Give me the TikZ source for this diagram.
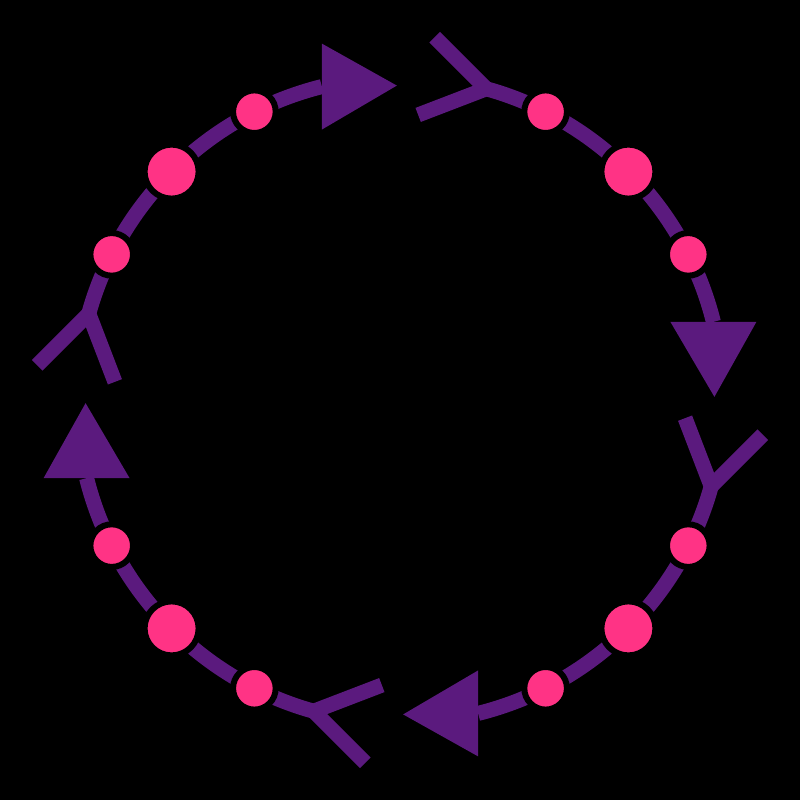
\documentclass[tikz,border=0pt]{standalone}
\usetikzlibrary{calc}
\definecolor{penColor}{RGB}{91,26,126}
\definecolor{dotColor}{RGB}{255,51,133}
\tikzset{
	ring/.style={draw=penColor, line width=0.15cm},
	small dot/.style={circle, inner sep=0pt, minimum size=0.426cm, fill=dotColor, draw=black, line width=0.06cm},
	big dot/.style={circle, inner sep=0pt, minimum size=0.54cm, fill=dotColor, draw=black, line width=0.06cm}
}

\begin{document}
\begin{tikzpicture}[x=0.01cm, y=0.01cm]
				\fill[black] (-400,-400) rectangle (400,400);
				% top quarter
				\coordinate (yA) at (164.5:323);
				\coordinate (tipA) at (104:323);
				\draw[ring] ($(yA)+(225:73)$) -- (yA) -- ($(yA)+(291:73)$);
				\draw[ring] (yA) arc[start angle=164.5, end angle=104, radius=323];
				\fill[penColor] ($(tipA)+(0,43)$) -- ($(tipA)+(75,1)$) -- ($(tipA)+(0,-43)$) -- cycle;
				\node[small dot] (a1) at (153.2:323) {};
				\node[big dot] (a2) at (135:323) {};
				\node[small dot] (a3) at (116.8:323) {};
				% right quarter
				\coordinate (yB) at (74.5:323);
				\coordinate (tipB) at (14:323);
				\draw[ring] ($(yB)+(135:73)$) -- (yB) -- ($(yB)+(201:73)$);
				\draw[ring] (yB) arc[start angle=74.5, end angle=14, radius=323];
				\fill[penColor] ($(tipB)+(43,0)$) -- ($(tipB)+(1,-75)$) -- ($(tipB)+(-43,0)$) -- cycle;
				\node[small dot] (b1) at (63.2:323) {};
				\node[big dot] (b2) at (45:323) {};
				\node[small dot] (b3) at (26.8:323) {};
				% bottom quarter
				\coordinate (yC) at (-15.5:323);
				\coordinate (tipC) at (-76:323);
				\draw[ring] ($(yC)+(45:73)$) -- (yC) -- ($(yC)+(111:73)$);
				\draw[ring] (yC) arc[start angle=-15.5, end angle=-76, radius=323];
				\fill[penColor] ($(tipC)+(0,-43)$) -- ($(tipC)+(-75,-1)$) -- ($(tipC)+(0,43)$) -- cycle;
				\node[small dot] (c1) at (-26.8:323) {};
				\node[big dot] (c2) at (-45:323) {};
				\node[small dot] (c3) at (-63.2:323) {};
				% left quarter
				\coordinate (yD) at (-105.5:323);
				\coordinate (tipD) at (-166:323);
				\draw[ring] ($(yD)+(-45:73)$) -- (yD) -- ($(yD)+(21:73)$);
				\draw[ring] (yD) arc[start angle=-105.5, end angle=-166, radius=323];
				\fill[penColor] ($(tipD)+(-43,0)$) -- ($(tipD)+(-1,75)$) -- ($(tipD)+(43,0)$) -- cycle;
				\node[small dot] (d1) at (-116.8:323) {};
				\node[big dot] (d2) at (-135:323) {};
				\node[small dot] (d3) at (-153.2:323) {};
\end{tikzpicture}
\end{document}
